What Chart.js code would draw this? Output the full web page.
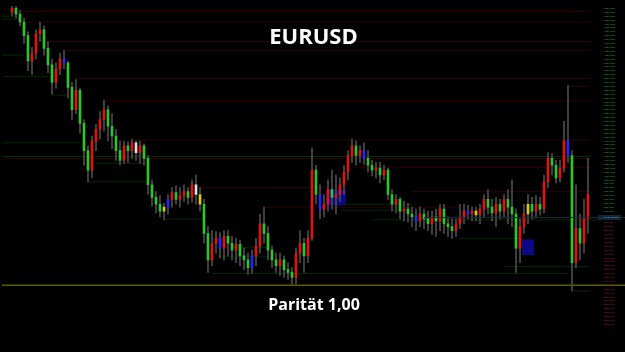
<!DOCTYPE html>
<html><head><meta charset="utf-8">
<script src="https://cdn.jsdelivr.net/npm/chart.js@4/dist/chart.umd.min.js"></script>
<style>html,body{margin:0;padding:0;background:#000;overflow:hidden}canvas{display:block;background:#000}</style>
</head><body>
<canvas id="c" width="625" height="352"></canvas>
<script>
// ---- candle data (EURUSD) ----
const opens = [
1.700,1.710,1.695,1.675,1.640,1.575,1.595,1.645,1.655,1.6075,
1.565,1.520,1.555,1.580,1.570,1.5075,1.450,1.500,1.415,1.345,
1.295,1.370,1.400,1.425,1.450,1.4075,1.3825,1.345,1.320,1.3575,
1.345,1.365,1.340,1.3575,1.325,1.2575,1.225,1.2075,1.190,1.200,
1.220,1.2375,1.220,1.230,1.240,1.225,1.2575,1.2325,1.2075,1.1325,
1.065,1.1075,1.120,1.095,1.125,1.1075,1.090,1.105,1.075,1.065,
1.045,1.075,1.100,1.1575,1.1325,1.090,1.065,1.050,1.065,1.040,
1.0325,1.020,1.0825,1.1075,1.075,1.120,1.295,1.2325,1.195,1.2075,
1.245,1.225,1.2325,1.2575,1.290,1.3325,1.3575,1.3325,1.345,1.325,
1.3075,1.295,1.300,1.2825,1.295,1.2325,1.2075,1.220,1.190,1.195,
1.1825,1.175,1.165,1.1825,1.170,1.1575,1.175,1.165,1.195,1.1575,
1.150,1.140,1.1575,1.175,1.190,1.1825,1.190,1.180,1.195,1.220,
1.200,1.185,1.2075,1.190,1.220,1.200,1.1825,1.095,1.150,1.1825,
1.2075,1.190,1.2075,1.195,1.265,1.325,1.3075,1.275,1.300,1.370,
1.3325,1.0575,1.145,1.1075,1.170];
const highs = [
1.715,1.715,1.705,1.685,1.650,1.610,1.655,1.675,1.665,1.625,
1.580,1.570,1.595,1.6025,1.575,1.520,1.5275,1.505,1.425,1.3575,
1.3825,1.4125,1.445,1.475,1.460,1.440,1.400,1.370,1.370,1.3675,
1.375,1.370,1.370,1.3625,1.3325,1.270,1.240,1.230,1.210,1.2325,
1.250,1.255,1.250,1.2575,1.250,1.270,1.2825,1.250,1.220,1.150,
1.140,1.1375,1.135,1.140,1.140,1.125,1.120,1.115,1.095,1.0825,
1.090,1.120,1.1825,1.200,1.150,1.100,1.0825,1.0825,1.075,1.0575,
1.045,1.095,1.140,1.120,1.140,1.3525,1.3075,1.2575,1.2325,1.270,
1.295,1.2825,1.275,1.3075,1.345,1.375,1.370,1.3575,1.365,1.345,
1.320,1.315,1.315,1.3075,1.300,1.245,1.2325,1.225,1.215,1.210,
1.200,1.195,1.200,1.195,1.190,1.190,1.195,1.2075,1.2075,1.175,
1.170,1.170,1.2075,1.2075,1.205,1.200,1.200,1.2075,1.2325,1.245,
1.220,1.225,1.220,1.2325,1.245,1.270,1.195,1.170,1.2075,1.2325,
1.225,1.230,1.225,1.2825,1.340,1.3375,1.320,1.320,1.420,1.5125,
1.345,1.2575,1.1825,1.220,1.325];
const lows = [
1.690,1.685,1.665,1.620,1.550,1.540,1.580,1.625,1.590,1.545,
1.490,1.505,1.540,1.555,1.480,1.425,1.440,1.390,1.3075,1.265,
1.275,1.345,1.375,1.395,1.370,1.350,1.320,1.3075,1.3125,1.315,
1.325,1.320,1.3125,1.3075,1.2325,1.2025,1.185,1.175,1.1675,1.1825,
1.200,1.2075,1.200,1.215,1.2075,1.2125,1.2075,1.190,1.1075,1.0325,
1.050,1.0825,1.070,1.065,1.075,1.065,1.0575,1.050,1.040,1.0275,
1.030,1.050,1.0825,1.1075,1.065,1.045,1.0325,1.025,1.020,1.015,
1.0025,1.0025,1.0575,1.0325,1.0575,1.115,1.2075,1.170,1.175,1.190,
1.195,1.1825,1.215,1.2325,1.270,1.315,1.3075,1.315,1.310,1.290,
1.280,1.275,1.2625,1.270,1.220,1.190,1.185,1.170,1.165,1.1625,
1.150,1.140,1.150,1.145,1.140,1.130,1.125,1.140,1.1325,1.125,
1.120,1.125,1.145,1.1575,1.170,1.165,1.165,1.1575,1.175,1.1825,
1.165,1.150,1.170,1.175,1.1575,1.150,1.0325,1.0575,1.1325,1.1575,
1.170,1.175,1.180,1.185,1.250,1.2825,1.2625,1.265,1.290,1.315,
0.985,1.045,1.065,1.0825,1.1325];
const closes = [
1.710,1.695,1.675,1.640,1.575,1.595,1.645,1.655,1.6075,1.565,
1.520,1.555,1.580,1.570,1.5075,1.450,1.500,1.415,1.345,1.295,
1.370,1.400,1.425,1.450,1.4075,1.3825,1.345,1.320,1.3575,1.345,
1.365,1.340,1.3575,1.325,1.2575,1.225,1.2075,1.190,1.200,1.220,
1.2375,1.220,1.230,1.240,1.225,1.2575,1.2325,1.2075,1.1325,1.065,
1.1075,1.120,1.095,1.125,1.1075,1.090,1.105,1.075,1.065,1.045,
1.075,1.100,1.1575,1.1325,1.090,1.065,1.050,1.065,1.040,1.0325,
1.020,1.0825,1.1075,1.075,1.120,1.295,1.2325,1.195,1.2075,1.245,
1.225,1.2325,1.2575,1.290,1.3325,1.3575,1.3325,1.345,1.325,1.3075,
1.295,1.300,1.2825,1.295,1.2325,1.2075,1.220,1.190,1.195,1.1825,
1.175,1.165,1.1825,1.170,1.1575,1.175,1.165,1.195,1.1575,1.150,
1.140,1.1575,1.175,1.190,1.1825,1.190,1.180,1.195,1.220,1.200,
1.185,1.2075,1.190,1.220,1.200,1.1825,1.095,1.150,1.1825,1.2075,
1.190,1.2075,1.195,1.265,1.325,1.3075,1.275,1.300,1.370,1.3325,
1.0575,1.145,1.1075,1.170,1.2325];

// highlighted candles (indicator colours)
const blueCandles = [13, 39, 52, 60, 77, 88, 101, 114, 139];
const yellowCandles = [38, 47, 116, 129];
const whiteCandles = [31, 46];

// horizontal resistance (red) levels
const resistancePrices = [1.7025, 1.675, 1.625, 1.6025, 1.53, 1.51, 1.4725, 1.3725, 1.325, 1.3025, 1.25, 1.24, 1.20];
const resistanceFrom   = [2, 4, 8, 13, 16, 139, 23, 30, -2.5, 86, 46, 100, 63];
const resistanceTo     = [144.5, 144.5, 144.5, 144.5, 144.5, 144.5, 144.5, 144.5, 144.5, 144.5, 79, 144.5, 112];
// horizontal support (green) levels
const supportPrices = [1.69, 1.6825, 1.59, 1.535, 1.4875, 1.365, 1.33, 1.3125, 1.265, 1.17, 1.2075, 1.1925, 1.1675, 1.12, 1.03, 1.0475, 0.985, 1.0725, 1.0975];
const supportFrom   = [-2.5, -2.5, -2.5, -2, 10, -2.5, -2.5, 21, 19, 38, 83, 82, 90, 112, 50, 123, 140, 52, 55];
const supportTo     = [1, 1, 3, 9, 14, 17, 144.5, 34, 34, 48, 100, 100, 147, 127, 139, 144.5, 144.5, 64, 64];

// blue zones
const zoneFrom = [79, 128];
const zoneTo = [83, 130];
const zoneTop = [1.245, 1.1175];
const zoneBottom = [1.205, 1.0775];

const parity = 1.00;
const refPrice = 1.175;

// ---- build datasets ----
const idx = opens.map((_, i) => i);
const wickData = idx.map(i => ({x: i, y: [lows[i], highs[i]]}));
const bodyData = idx.map(i => ({x: i, y: [opens[i], closes[i]]}));
const bodyColors = idx.map(i =>
  blueCandles.includes(i) ? '#2424ff' :
  yellowCandles.includes(i) ? '#d2d200' :
  whiteCandles.includes(i) ? '#dddddd' :
  (closes[i] > opens[i] ? '#e01212' : '#2ec42e'));

const lineSets = [];
resistancePrices.forEach((p, k) => lineSets.push({
  type: 'line', data: [{x: resistanceFrom[k], y: p}, {x: resistanceTo[k], y: p}],
  borderColor: '#300000', borderWidth: 1, pointRadius: 0, order: 5
}));
supportPrices.forEach((p, k) => lineSets.push({
  type: 'line', data: [{x: supportFrom[k], y: p}, {x: supportTo[k], y: p}],
  borderColor: '#002c00', borderWidth: 1, pointRadius: 0, order: 5
}));

const overlay = {
  id: 'overlay',
  beforeDatasetsDraw(chart) {
    const {ctx, scales: {x, y}} = chart;
    ctx.save();
    ctx.fillStyle = '#0a0a86';
    zoneFrom.forEach((f, k) => {
      const x0 = x.getPixelForValue(f - 0.5), x1 = x.getPixelForValue(zoneTo[k] + 0.5);
      const y0 = y.getPixelForValue(zoneTop[k]), y1 = y.getPixelForValue(zoneBottom[k]);
      ctx.fillRect(x0, y0, x1 - x0, y1 - y0);
    });
    ctx.restore();
  },
  afterDatasetsDraw(chart) {
    const {ctx, scales: {x, y}} = chart;
    const W = chart.width;
    ctx.save();
    // current price line and box
    const py = Math.round(y.getPixelForValue(refPrice)) + 0.5;
    ctx.strokeStyle = '#1a2b3c'; ctx.lineWidth = 1;
    ctx.beginPath(); ctx.moveTo(x.getPixelForValue(103), py); ctx.lineTo(W, py); ctx.stroke();
    ctx.fillStyle = '#132638';
    ctx.fillRect(y.left - 2, py - 2.5, W - y.left - 2, 5);
    ctx.fillStyle = '#8ea2b6';
    ctx.font = '2.4px "Liberation Sans"';
    ctx.textBaseline = 'middle'; ctx.textAlign = 'left';
    ctx.fillText(refPrice.toFixed(4) + ' Spread', y.left + 3, py);
    // parity line
    const pp = y.getPixelForValue(parity);
    ctx.strokeStyle = '#5c5c00'; ctx.lineWidth = 1.5;
    ctx.beginPath(); ctx.moveTo(2, pp); ctx.lineTo(W, pp); ctx.stroke();
    ctx.restore();
  },
  afterDraw(chart) {
    const {ctx} = chart;
    ctx.save();
    ctx.fillStyle = '#ffffff';
    ctx.textAlign = 'center'; ctx.textBaseline = 'alphabetic';
    ctx.font = 'bold 22px "Open Sans"';
    ctx.fillText('EURUSD', 313.5, 44);
    ctx.font = 'bold 16px "Open Sans"';
    ctx.fillText('Parität 1,00', 314, 309.5);
    ctx.restore();
  }
};

new Chart(document.getElementById('c'), {
  type: 'bar',
  data: {
    datasets: [
      {type: 'bar', data: wickData, backgroundColor: '#4c4c4c', barThickness: 1, grouped: false, borderWidth: 0, order: 2},
      {type: 'bar', data: bodyData, backgroundColor: bodyColors, barThickness: 2, grouped: false, borderWidth: 0, order: 1},
      ...lineSets
    ]
  },
  options: {
    responsive: false,
    animation: false,
    devicePixelRatio: 1,
    layout: {padding: {left: 2, right: 0, top: 0, bottom: 0}},
    plugins: {legend: {display: false}, tooltip: {enabled: false}, title: {display: false}},
    scales: {
      x: {type: 'linear', min: -2.5, max: 147, display: false, offset: false},
      y: {
        position: 'right', min: 0.84, max: 1.72,
        grid: {display: false, drawTicks: false}, border: {display: false},
        afterFit(s) { s.width = 25; },
        ticks: {
          stepSize: 0.01, autoSkip: false, padding: 3,
          font: {size: 2.4, family: 'Liberation Sans'},
          color: c => (c.tick && c.tick.value > refPrice) ? '#1fb81f' : '#cc1414',
          callback: v => {
            if (v > 1.715 || v < 0.895 || Math.abs(v - refPrice) < 0.0055) return '';
            const p = Math.round((v - refPrice) * 10000);
            return (p > 0 ? '+' : '') + p + ' Pips';
          }
        }
      }
    }
  },
  plugins: [overlay]
});
</script></body></html>
